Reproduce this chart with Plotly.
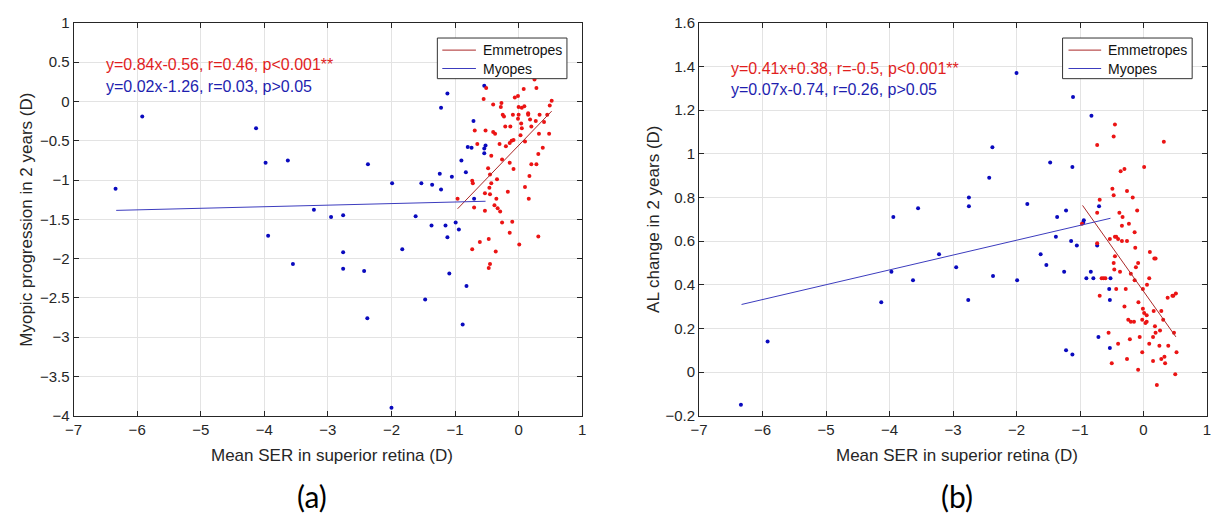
import plotly.graph_objects as go

# ---------------- data ----------------
# Panel (a): myopic progression vs mean SER
a_myo_x = [-5.92, -6.34, -4.13, -3.98, -3.63, -2.37, -1.99, -1.53, -3.22, -2.95, -2.76, -1.62,
           -3.94, -2.76, -1.83, -3.55, -2.76, -2.43, -2.38, -2.00,
           -0.54, -1.12, -1.22, -0.71, -0.80, -0.74, -0.52, -0.54, -0.54, -0.90, -0.83, -1.24,
           -1.05, -1.36, -1.22, -0.70, -1.37, -1.15, -0.99, -0.94, -1.12, -1.09, -1.47, -0.82, -0.88]
a_myo_y = [-0.19, -1.11, -0.34, -0.78, -0.75, -0.80, -1.04, -1.04, -1.38, -1.47, -1.45, -1.46,
           -1.71, -1.92, -1.88, -2.07, -2.13, -2.16, -2.76, -3.90,
           0.20, 0.10, -0.08, -0.25, -0.58, -0.59, -0.56, -0.60, -0.66, -0.75, -0.90, -0.92,
           -0.96, -1.06, -1.12, -1.24, -1.58, -1.58, -1.54, -1.63, -1.73, -2.19, -2.52, -2.35, -2.84]

a_emm_x = [0.25, -0.51, 0.08, 0.28, -0.55, -0.01, -0.06, 0.52, -0.40, -0.27, -0.28, 0.00, 0.05,
           0.09, 0.49, 0.15, -0.25, -0.23, -0.09, 0.00, 0.15, 0.33, 0.45, -0.01, 0.18, 0.27, 0.40,
           -0.21, -0.13, 0.04, 0.05, 0.20, -0.69, -0.52, -0.40, -0.37, 0.03, 0.32, 0.48, -0.65,
           -0.30, -0.20, -0.14, -0.11, -0.08, 0.10, 0.38, -0.43, -0.26, -0.14, 0.31, 0.20, 0.28,
           -0.48, -0.08, -0.45, 0.17, -0.73, -0.72, -0.34, -0.43, -0.46, -0.17, 0.10, -0.96, -0.53,
           -0.45, -0.35, 0.16, -0.70, -0.53, -0.38, -0.33, -0.29, -0.26, -0.10, -0.14, 0.31, 0.01,
           -0.61, -0.47, -0.73, -0.36, -0.45, -0.47]
a_emm_y = [0.28, 0.17, 0.16, 0.17, 0.03, 0.07, 0.05, 0.01, -0.04, -0.02, -0.07, -0.07, -0.08,
           -0.06, -0.05, -0.15, -0.17, -0.19, -0.17, -0.17, -0.17, -0.17, -0.17, -0.22, -0.23, -0.25,
           -0.26, -0.32, -0.32, -0.28, -0.34, -0.32, -0.37, -0.37, -0.39, -0.41, -0.43, -0.41, -0.41,
           -0.54, -0.54, -0.57, -0.53, -0.50, -0.49, -0.51, -0.59, -0.69, -0.74, -0.78, -0.67, -0.80,
           -0.80, -0.85, -0.86, -0.93, -0.95, -1.01, -1.04, -0.99, -1.04, -1.10, -1.15, -1.09, -1.24,
           -1.17, -1.18, -1.24, -1.24, -1.35, -1.39, -1.32, -1.36, -1.40, -1.54, -1.53, -1.67, -1.72,
           -1.82, -1.79, -1.75, -1.88, -1.91, -2.07, -2.12]

# Panel (b): AL change vs mean SER
b_myo_x = [-6.34, -5.92, -4.13, -3.94, -3.97, -3.55, -3.63, -3.22, -2.95, -2.75, -2.75, -2.76,
           -2.38, -2.43, -2.37, -2.00, -1.11, -0.82, -1.47, -1.12, -1.83, -0.70, -1.22, -1.36,
           -0.94, -0.95, -1.38, -1.14, -1.05, -0.73, -1.62, -1.53, -1.99, -1.25, -0.83, -0.90,
           -0.79, -0.52, -0.54, -0.53, -0.71, -0.53, -1.22, -1.12]
b_myo_y = [-0.15, 0.14, 0.32, 0.71, 0.46, 0.75, 0.42, 0.54, 0.48, 0.80, 0.76, 0.33,
           1.03, 0.89, 0.44, 1.37, 1.26, 1.175, 0.96, 0.94, 0.77, 0.76, 0.74, 0.71,
           0.695, 0.685, 0.62, 0.60, 0.58, 0.58, 0.54, 0.49, 0.42, 0.46, 0.46, 0.43,
           0.43, 0.43, 0.38, 0.33, 0.16, 0.11, 0.10, 0.08]

b_emm_x = [-0.45, -0.47, -0.73, 0.32, -0.36, -0.30, 0.01, -0.49, -0.47, -0.26, -0.17, -0.69,
           -0.73, -0.10, -0.38, -0.33, -0.23, -0.34, -0.97, -0.14, -0.53, -0.45, -0.43, -0.40,
           -0.34, -0.26, -0.73, -0.13, 0.10, -0.45, 0.17, 0.19, -0.085, -0.47, -0.12, -0.46,
           -0.37, -0.20, -0.66, -0.63, -0.60, 0.09, -0.14, 0.055, -0.43, -0.28, -0.01, -0.69,
           0.51, 0.47, 0.455, 0.38, -0.08, -0.30, -0.01, 0.01, 0.16, 0.28, 0.05, -0.24, -0.20,
           -0.15, -0.02, 0.03, 0.05, 0.31, 0.18, 0.26, 0.19, 0.48, -0.55, -0.06, 0.15, -0.215,
           -0.40, 0.09, 0.25, 0.39, -0.02, 0.52, 0.33, 0.28, -0.26, 0.15, 0.34, -0.50, -0.085,
           0.50, 0.21]
b_emm_y = [1.135, 1.08, 1.04, 1.055, 0.92, 0.93, 0.94, 0.84, 0.81, 0.83, 0.80, 0.79,
           0.73, 0.74, 0.73, 0.71, 0.68, 0.67, 0.68, 0.64, 0.61, 0.62, 0.62, 0.61,
           0.60, 0.60, 0.59, 0.57, 0.55, 0.53, 0.52, 0.52, 0.50, 0.50, 0.48, 0.47,
           0.46, 0.45, 0.43, 0.43, 0.43, 0.43, 0.42, 0.40, 0.38, 0.38, 0.38, 0.35,
           0.36, 0.35, 0.35, 0.34, 0.32, 0.30, 0.29, 0.27, 0.28, 0.28, 0.26, 0.24, 0.23,
           0.23, 0.24, 0.225, 0.23, 0.24, 0.21, 0.19, 0.18, 0.18, 0.18, 0.16, 0.16, 0.15,
           0.13, 0.13, 0.12, 0.12, 0.09, 0.09, 0.07, 0.06, 0.06, 0.05, 0.04, 0.04, 0.01,
           -0.01, -0.06]

# fitted lines: (slope, intercept) and x-range, as drawn
a_emm_fit = (0.84, -0.56)
a_emm_range = [-0.96, 0.52]
a_myo_fit = (0.02, -1.26)
a_myo_range = [-6.33, -0.52]
b_emm_fit = (-0.41, 0.37)
b_emm_range = [-0.96, 0.51]
b_myo_fit = (0.068, 0.74)
b_myo_range = [-6.33, -0.52]

a_texts = ["y=0.84x-0.56, r=0.46, p<0.001**", "y=0.02x-1.26, r=0.03, p>0.05"]
b_texts = ["y=0.41x+0.38, r=-0.5, p<0.001**", "y=0.07x-0.74, r=0.26, p>0.05"]
legend_names = ["Emmetropes", "Myopes"]

x_ticks = [-7, -6, -5, -4, -3, -2, -1, 0, 1]
a_yticks = [1, 0.5, 0, -0.5, -1, -1.5, -2, -2.5, -3, -3.5, -4]
b_yticks = [1.6, 1.4, 1.2, 1, 0.8, 0.6, 0.4, 0.2, 0, -0.2]

# ---------------- style ----------------
RED_DOT = "rgb(235,20,20)"
BLUE_DOT = "rgb(10,10,190)"
RED_LINE = "rgb(170,40,40)"
BLUE_LINE = "rgb(60,60,190)"
TXT_RED = "rgb(225,30,30)"
TXT_BLUE = "rgb(30,30,175)"
AX = "#262626"
GRID = "#e3e3e3"
FONT = "Liberation Sans, Arial, sans-serif"
W, H = 1212, 523


def line_pts(fit, rng):
    return rng, [fit[0] * v + fit[1] for v in rng]


fig = go.Figure()


def add_panel(mx, my, ex, ey, efit, erng, mfit, mrng, xa, ya):
    fig.add_trace(go.Scatter(x=mx, y=my, mode="markers", showlegend=False,
                             marker=dict(color=BLUE_DOT, size=4), xaxis=xa, yaxis=ya))
    fig.add_trace(go.Scatter(x=ex, y=ey, mode="markers", showlegend=False,
                             marker=dict(color=RED_DOT, size=4), xaxis=xa, yaxis=ya))
    lx, ly = line_pts(efit, erng)
    fig.add_trace(go.Scatter(x=lx, y=ly, mode="lines", showlegend=False,
                             line=dict(color=RED_LINE, width=1), xaxis=xa, yaxis=ya))
    lx, ly = line_pts(mfit, mrng)
    fig.add_trace(go.Scatter(x=lx, y=ly, mode="lines", showlegend=False,
                             line=dict(color=BLUE_LINE, width=1), xaxis=xa, yaxis=ya))


add_panel(a_myo_x, a_myo_y, a_emm_x, a_emm_y, a_emm_fit, a_emm_range, a_myo_fit, a_myo_range, "x", "y")
add_panel(b_myo_x, b_myo_y, b_emm_x, b_emm_y, b_emm_fit, b_emm_range, b_myo_fit, b_myo_range, "x2", "y2")

axis_common = dict(showline=True, linecolor=AX, linewidth=1, mirror="ticks",
                   ticks="inside", ticklen=5, tickcolor=AX, showgrid=True, gridcolor=GRID,
                   zeroline=False, tickfont=dict(family=FONT, size=15, color=AX))

xd1 = [65.3 / W, 579.4 / W]
xd2 = [697.5 / W, 1211.0 / W]
yd = [1 - 420.3 / H, 1 - 14.4 / H]

fig.update_layout(
    width=W, height=H,
    margin=dict(l=0, r=0, t=0, b=0),
    paper_bgcolor="white", plot_bgcolor="white",
    showlegend=False,
    xaxis=dict(domain=xd1, range=[-7, 1], tickvals=x_ticks, anchor="y", **axis_common),
    yaxis=dict(domain=yd, range=[-4, 1], tickvals=a_yticks, anchor="x", **axis_common),
    xaxis2=dict(domain=xd2, range=[-7, 1], tickvals=x_ticks, anchor="y2", **axis_common),
    yaxis2=dict(domain=yd, range=[-0.2, 1.6], tickvals=b_yticks, anchor="x2", **axis_common),
)


def px_x(v):
    return v / W


def px_y(v):
    return 1 - v / H


ann = []
shapes = []

# manual legends (box, line samples, labels)
for (bx0, bx1, lx0, lx1, tx) in [(433, 564, 438, 472, 477), (1065, 1196, 1071, 1104, 1109)]:
    shapes.append(dict(type="rect", xref="paper", yref="paper",
                       x0=px_x(bx0), x1=px_x(bx1), y0=px_y(72), y1=px_y(30),
                       line=dict(color="#333333", width=1), fillcolor="white", layer="above"))
    for name, col, yy in zip(legend_names, [RED_LINE, BLUE_LINE], [42.5, 61.5]):
        shapes.append(dict(type="line", xref="paper", yref="paper",
                           x0=px_x(lx0), x1=px_x(lx1), y0=px_y(yy), y1=px_y(yy),
                           line=dict(color=col, width=1), layer="above"))
        ann.append(dict(text=name, x=px_x(tx), y=px_y(yy), xref="paper", yref="paper",
                        xanchor="left", yanchor="middle", showarrow=False,
                        font=dict(family=FONT, size=14, color="#111111")))

# regression texts
for i, (t, c) in enumerate(zip(a_texts, [TXT_RED, TXT_BLUE])):
    ann.append(dict(text=t, x=px_x(96), y=px_y(57 + 23 * i), xref="paper", yref="paper",
                    xanchor="left", yanchor="middle", showarrow=False,
                    font=dict(family=FONT, size=16, color=c)))
for i, (t, c) in enumerate(zip(b_texts, [TXT_RED, TXT_BLUE])):
    ann.append(dict(text=t, x=px_x(728), y=px_y(61 + 22 * i), xref="paper", yref="paper",
                    xanchor="left", yanchor="middle", showarrow=False,
                    font=dict(family=FONT, size=16, color=c)))
# axis titles
for cx in [(xd1[0] + xd1[1]) / 2, (xd2[0] + xd2[1]) / 2]:
    ann.append(dict(text="Mean SER in superior retina (D)", x=cx + px_x(4), y=px_y(462),
                    xref="paper", yref="paper", xanchor="center", yanchor="middle",
                    showarrow=False, font=dict(family=FONT, size=17, color=AX)))
ann.append(dict(text="Myopic progression in 2 years (D)", x=px_x(18), y=px_y(218),
                xref="paper", yref="paper", xanchor="center", yanchor="middle",
                textangle=-90, showarrow=False, font=dict(family=FONT, size=17, color=AX)))
ann.append(dict(text="AL change in 2 years (D)", x=px_x(652), y=px_y(218),
                xref="paper", yref="paper", xanchor="center", yanchor="middle",
                textangle=-90, showarrow=False, font=dict(family=FONT, size=17, color=AX)))
# panel labels
ann.append(dict(text="(a)", x=px_x(306), y=px_y(503), xref="paper", yref="paper",
                xanchor="center", yanchor="middle", showarrow=False,
                font=dict(family="Lato, sans-serif", size=30, color="#000000")))
ann.append(dict(text="(b)", x=px_x(958), y=px_y(503), xref="paper", yref="paper",
                xanchor="center", yanchor="middle", showarrow=False,
                font=dict(family="Lato, sans-serif", size=30, color="#000000")))
fig.update_layout(annotations=ann, shapes=shapes)

fig.write_html("out.html")
